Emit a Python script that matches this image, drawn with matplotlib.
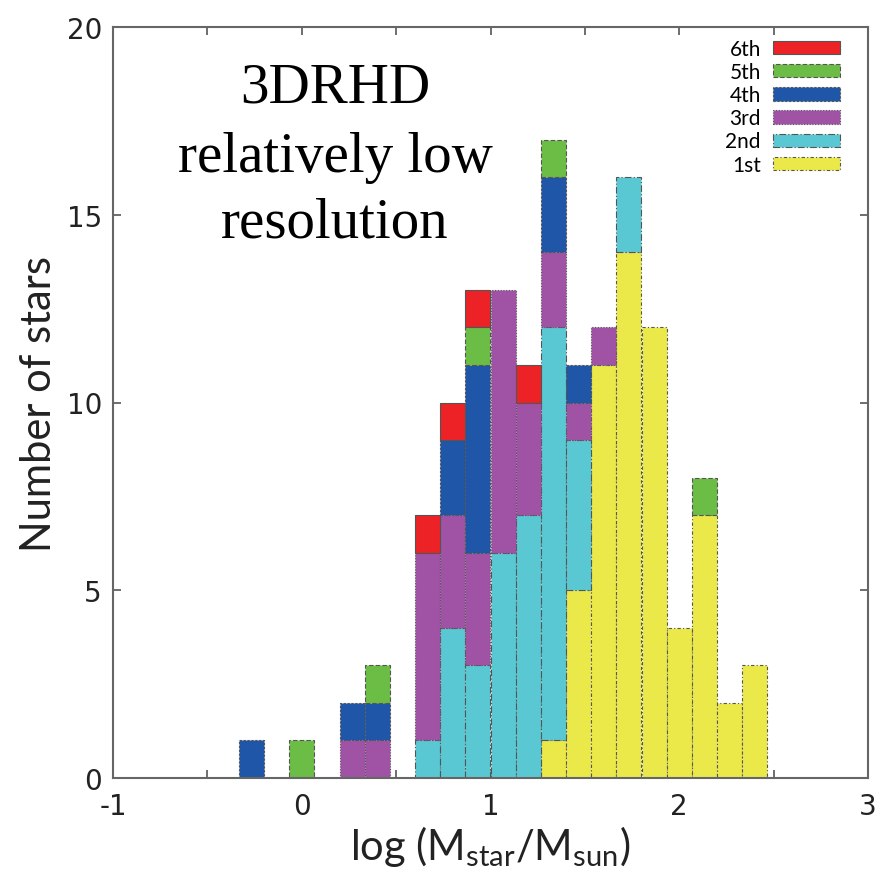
import matplotlib
matplotlib.use("Agg")
import matplotlib.pyplot as plt
import matplotlib.patches as mpatches
from matplotlib.ticker import MultipleLocator

# bin centres of log(Mstar/Msun), bin width 2/15
bin_centers = [-0.267, -0.133, 0.0, 0.133, 0.267, 0.4, 0.533, 0.667, 0.8, 0.933,
               1.067, 1.2, 1.333, 1.467, 1.6, 1.733, 1.867, 2.0, 2.133, 2.267, 2.4]
bin_width = 0.1333

# number of stars per generation in each bin
first = [0, 0, 0, 0, 0, 0, 0, 0, 0, 0, 0, 0, 1, 5, 11, 14, 12, 4, 7, 2, 3]
second = [0, 0, 0, 0, 0, 0, 0, 1, 4, 3, 6, 7, 11, 4, 0, 2, 0, 0, 0, 0, 0]
third = [0, 0, 0, 0, 1, 1, 0, 5, 3, 3, 7, 3, 2, 1, 1, 0, 0, 0, 0, 0, 0]
fourth = [1, 0, 0, 0, 1, 1, 0, 0, 2, 5, 0, 0, 2, 1, 0, 0, 0, 0, 0, 0, 0]
fifth = [0, 0, 1, 0, 0, 1, 0, 0, 0, 1, 0, 0, 1, 0, 0, 0, 0, 0, 1, 0, 0]
sixth = [0, 0, 0, 0, 0, 0, 0, 1, 1, 1, 0, 1, 0, 0, 0, 0, 0, 0, 0, 0, 0]

labels = ["1st", "2nd", "3rd", "4th", "5th", "6th"]
series = [first, second, third, fourth, fifth, sixth]
colors = ["#ebe84a", "#5ac8d3", "#a052a5", "#1f56a8", "#6bbd45", "#ec2227"]
styles = [(0, (3, 2, 1, 2)), (0, (6, 2, 1, 2)), (0, (1, 1.5)),
          (0, (2, 1.5)), (0, (4, 2)), "-"]
edge = "#555555"

plt.rcParams["mathtext.fontset"] = "custom"
plt.rcParams["mathtext.rm"] = "Lato"
plt.rcParams["mathtext.it"] = "Lato:italic"
plt.rcParams["axes.unicode_minus"] = False

fig = plt.figure(figsize=(8.88, 8.78), dpi=100)
ax = fig.add_axes([113 / 888, 99 / 878, 755 / 888, 751 / 878])

# stacked histogram, bottom generation first
bottom = [0] * len(bin_centers)
for vals, col, ls in zip(series, colors, styles):
    xs = [x for x, v in zip(bin_centers, vals) if v > 0]
    hs = [v for v in vals if v > 0]
    bs = [b for b, v in zip(bottom, vals) if v > 0]
    ax.bar(xs, hs, width=bin_width, bottom=bs, color=col, edgecolor=edge,
           linewidth=0.8, linestyle=ls, zorder=2)
    bottom = [b + v for b, v in zip(bottom, vals)]

ax.set_xlim(-1, 3)
ax.set_ylim(0, 20)
ax.xaxis.set_major_locator(MultipleLocator(1))
ax.xaxis.set_minor_locator(MultipleLocator(0.5))
ax.yaxis.set_major_locator(MultipleLocator(5))
ax.tick_params(which="both", direction="in", top=True, right=True,
               length=6, width=1.2, color="#555555")
ax.tick_params(axis="x", pad=10)
ax.tick_params(axis="y", pad=8)
for lab in ax.get_xticklabels() + ax.get_yticklabels():
    lab.set_fontfamily("DejaVu Sans")
    lab.set_fontsize(20)
    lab.set_color("#222222")
for sp in ax.spines.values():
    sp.set_color("#666666")
    sp.set_linewidth(1.5)

ax.set_xlabel(r"log (M$_{\mathrm{star}}$/M$_{\mathrm{sun}}$)",
              fontsize=30, family="Lato", color="#222222", labelpad=2)
ax.set_ylabel("Number of stars", fontsize=30, family="Lato",
              color="#222222", labelpad=6)

handles = [mpatches.Patch(facecolor=c, edgecolor=edge, linewidth=0.8,
                          linestyle=s, label=l)
           for l, c, s in zip(labels, colors, styles)][::-1]
ax.legend(handles=handles, loc="upper right",
          bbox_to_anchor=(840 / 888, 1 - 40 / 878),
          bbox_transform=fig.transFigure, frameon=False, markerfirst=False,
          borderpad=0, borderaxespad=0, handlelength=3.2, handleheight=0.6,
          handletextpad=0.6, labelspacing=0.15,
          prop={"family": "Lato", "size": 15})

# overlay annotation
for txt, yb in zip(["3DRHD", "relatively low", "resolution"], [103, 172, 237]):
    fig.text(335 / 888, 1 - yb / 878, txt, ha="center", va="baseline",
             fontsize=41, family="Liberation Serif", color="black")

fig.savefig("out.png", dpi=100)
